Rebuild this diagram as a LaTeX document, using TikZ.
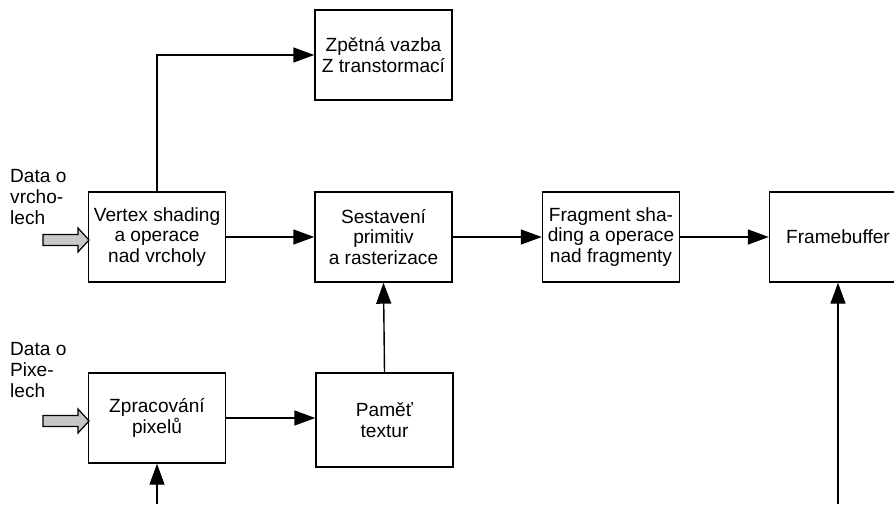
\documentclass[tikz,border=0pt]{standalone}
\usepackage{fontspec}
\setmainfont{Liberation Sans}
\usetikzlibrary{arrows.meta}
\begin{document}
\begin{tikzpicture}[x=1pt,y=-1pt,
  box/.style={draw=black,line width=1.4pt,minimum width=137pt,minimum height=90pt,inner sep=0pt,align=center,font=\fontsize{19.1}{20.5}\selectfont},
  lbl/.style={inner sep=0pt,align=left,anchor=base west,font=\fontsize{19.1}{20.7}\selectfont},
  conn/.style={line width=1.4pt,-{Triangle[length=21pt,width=15pt]}},
  block/.style={draw=black,line width=1.2pt,fill=black!22}
]
\useasboundingbox (0,0) rectangle (894,504);
\clip (0,0) rectangle (894,504);
\node[box] (zv) at (383.5,55) {Zpětná vazba\\Z transtormací};
\node[box] (vs) at (157,237) {Vertex shading\\a operace\\nad vrcholy};
\node[box] (sr) at (383.5,237) {Sestavení\\primitiv\\a rasterizace};
\node[box] (fs) at (611,237) {Fragment sha-\\ding a operace\\nad fragmenty};
\node[box] (fb) at (838,237) {Framebuffer};
\node[box] (zp) at (157,418) {Zpracování\\pixelů};
\node[box,minimum height=94pt] (pt) at (384.5,420) {Paměť\\textur};
\node[lbl] (l1) at (10,224) {Data o\\vrcho-\\lech};
\node[lbl] (l2) at (10,397) {Data o\\Pixe-\\lech};
\coordinate (b1) at (157,504);
\coordinate (b2) at (838,504);
\draw[conn] (vs.north) |- (zv.west);
\draw[conn] (vs) -- (sr);
\draw[conn] (sr) -- (fs);
\draw[conn] (fs) -- (fb);
\draw[conn] (pt.north) -- (sr.south);
\draw[conn] (zp.east) -- (zp.east -| pt.west);
\draw[conn] (b1) -- (zp.south);
\draw[conn] (b2) -- (fb.south);
\draw[block] (43,234.5) -- (78,234.5) -- (78,228) -- (89,240) -- (78,252) -- (78,245.5) -- (43,245.5) -- cycle;
\draw[block] (43,415.5) -- (78,415.5) -- (78,409) -- (89,421) -- (78,433) -- (78,426.5) -- (43,426.5) -- cycle;
\end{tikzpicture}
\end{document}
